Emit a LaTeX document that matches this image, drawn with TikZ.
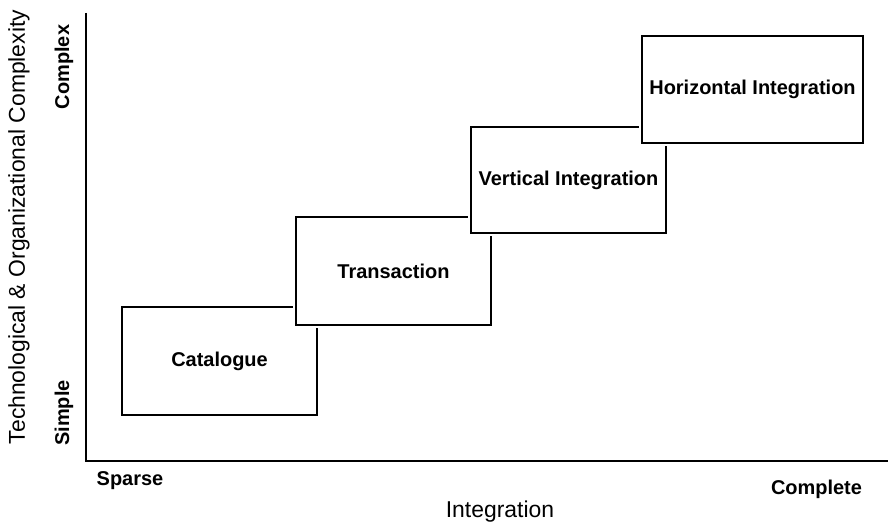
\documentclass[tikz,border=0pt]{standalone}
\usepackage{fontspec}
\setmainfont{Liberation Sans}
\usepackage{tikz}
\usetikzlibrary{positioning}

\begin{document}
\begin{tikzpicture}[
    stage/.style={draw, fill=white, line width=1.4pt,
        preaction={draw=white, line width=4.6pt},
        minimum width=4.875cm, minimum height=2.7cm, inner sep=0pt,
        font=\fontsize{14.2}{17}\selectfont\bfseries},
    endlabel/.style={font=\fontsize{14.2}{17}\selectfont\bfseries},
    axistitle/.style={font=\fontsize{16.3}{19}\selectfont}
]
    \useasboundingbox (-2.15,-1.6) rectangle (20.05,11.525);
    % axes
    \coordinate (origin) at (0,0);
    \coordinate (ytop) at (0,11.2);
    \coordinate (xend) at (20.05,0);
    \draw[line width=1.5pt] (ytop) -- (origin) -- (xend);
    \node[axistitle,rotate=90] at (-1.675,5.85) (ytitle) {Technological \& Organizational Complexity};
    \node[axistitle] at (10.35,-1.27) (xtitle) {Integration};
    \node[endlabel,rotate=90] at (-0.55,9.85) (complex) {Complex};
    \node[endlabel,rotate=90] at (-0.55,1.2) (simple) {Simple};
    \node[endlabel] at (1.1,-0.5) (sparse) {Sparse};
    \node[endlabel] at (18.2625,-0.7) (complete) {Complete};
    % stages, each one drawn over the one before
    \node[stage] at (3.3375,2.5) (catalogue) {Catalogue};
    \node[stage] at (7.6875,4.75) (transaction) {Transaction};
    \node[stage, minimum height=2.65cm] at (12.0625,7.025) (vertical) {Vertical Integration};
    \node[stage, minimum width=5.525cm, minimum height=2.675cm] at (16.6625,9.2875) (horizontal) {Horizontal Integration};
\end{tikzpicture}
\end{document}
